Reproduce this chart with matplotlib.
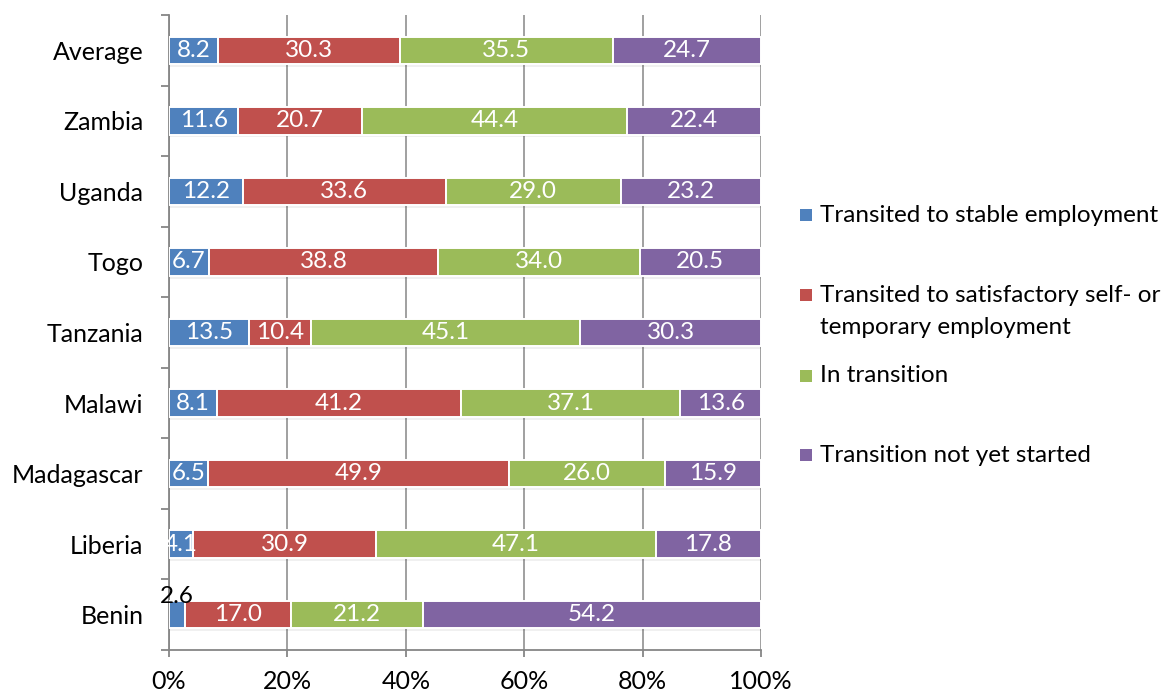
import matplotlib
matplotlib.use("Agg")
import matplotlib.pyplot as plt
import numpy as np
from matplotlib.patches import Rectangle
from matplotlib.ticker import FuncFormatter, FixedLocator

plt.rcParams['font.family'] = ['Lato', 'DejaVu Sans']

countries = ["Benin", "Liberia", "Madagascar", "Malawi", "Tanzania",
             "Togo", "Uganda", "Zambia", "Average"]
stable = [2.6, 4.1, 6.5, 8.1, 13.5, 6.7, 12.2, 11.6, 8.2]
satisfactory = [17.0, 30.9, 49.9, 41.2, 10.4, 38.8, 33.6, 20.7, 30.3]
in_transition = [21.2, 47.1, 26.0, 37.1, 45.1, 34.0, 29.0, 44.4, 35.5]
not_started = [54.2, 17.8, 15.9, 13.6, 30.3, 20.5, 23.2, 22.4, 24.7]

series_names = ["Transited to stable employment",
                "Transited to satisfactory self- or\ntemporary employment",
                "In transition",
                "Transition not yet started"]
colors = ["#4F81BD", "#C0504D", "#9BBB59", "#8064A2"]
x_ticks = [0, 20, 40, 60, 80, 100]

values = np.array([stable, satisfactory, in_transition, not_started])
totals = values.sum(axis=0)
shares = values / totals * 100.0

W, H = 1168, 693
fig = plt.figure(figsize=(W / 100, H / 100), dpi=100)
ax = fig.add_axes([169 / W, 1 - 650 / H, (761 - 169) / W, (650 - 15) / H])

font_size = 18
label_size = 17.5
legend_size = 17.5

y = np.arange(len(countries))
bar_h = 0.39
left = np.zeros(len(countries))
for i, (name, col) in enumerate(zip(series_names, colors)):
    w = shares[i]
    # soft drop shadow beneath each segment
    ax.barh(y - 0.04, w, left=left, height=bar_h, color="#000000", alpha=0.06,
            linewidth=0, zorder=2)
    ax.barh(y, w, left=left, height=bar_h, color=col, edgecolor="white",
            linewidth=1.4, zorder=3)
    for j in range(len(countries)):
        txt = f"{values[i, j]:.1f}"
        cx = left[j] + w[j] / 2
        if i == 0 and countries[j] == "Benin":
            ax.text(cx, y[j] + 0.26, txt, ha="center", va="center",
                    color="black", fontsize=label_size, zorder=5)
        else:
            ax.text(cx, y[j], txt, ha="center", va="center", color="white",
                    fontsize=label_size, zorder=5)
    left = left + w

ax.set_xlim(0, 100)
ax.set_ylim(-0.5, len(countries) - 0.5)
ax.set_xticks(x_ticks)
ax.xaxis.set_major_formatter(FuncFormatter(lambda v, p: f"{v:.0f}%"))
ax.set_yticks(y)
ax.set_yticklabels(countries)
ax.yaxis.set_minor_locator(FixedLocator(np.arange(-0.5, len(countries), 1.0)))

grid_col = "#868686"
ax.grid(axis="x", color=grid_col, linewidth=1.1, zorder=0)
ax.set_axisbelow(True)
for s in ["top", "right"]:
    ax.spines[s].set_visible(False)
for s in ["left", "bottom"]:
    ax.spines[s].set_color(grid_col)
    ax.spines[s].set_linewidth(1.3)

ax.tick_params(axis="y", which="major", length=0, pad=18.5, labelsize=font_size)
ax.tick_params(axis="y", which="minor", length=6, width=1.3, color=grid_col)
ax.tick_params(axis="x", which="major", length=5, width=1.3, color=grid_col,
               pad=9.5, labelsize=font_size)

# legend on the right: colour swatch next to each series name
sw = 12
legend_rows = [215, 295, 376, 455]
for name, col, ly in zip(series_names, colors, legend_rows):
    fig.patches.append(Rectangle((800 / W, 1 - (ly + sw / 2) / H), sw / W, sw / H,
                                 transform=fig.transFigure, facecolor=col,
                                 edgecolor="none"))
    lines = name.split("\n")
    for k, line in enumerate(lines):
        fig.text(820 / W, 1 - (ly + 32 * k) / H, line, ha="left", va="center",
                 fontsize=legend_size)

fig.savefig("out.png", dpi=100)
